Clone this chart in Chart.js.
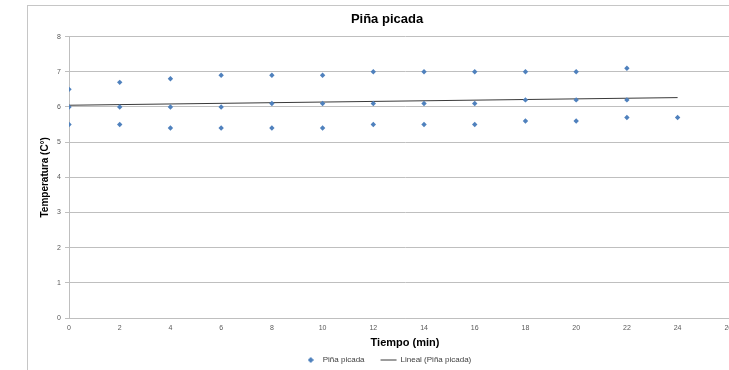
<!DOCTYPE html>
<html>
<head>
<meta charset="utf-8">
<script src="https://cdn.jsdelivr.net/npm/chart.js@4/dist/chart.umd.min.js"></script>
<style>
    html, body { margin: 0; padding: 0; background: #fff; overflow: hidden; }
    #wrap { position: relative; width: 729px; height: 370px; overflow: hidden; }
    #frame { position: absolute; left: 27px; top: 5px; width: 800px; height: 400px; border: 1px solid #c6c6c6; }
    #piña { position: absolute; left: 0; top: 0; }
</style>
</head>
<body>
<div id="wrap">
    <div id="frame"></div>
    <canvas id="piña" width="775" height="370"></canvas>
</div>
<script>
// Piña picada - temperatura vs tiempo

const tiempo = [0, 2, 4, 6, 8, 10, 12, 14, 16, 18, 20, 22, 24];
const tempAlta = [6.5, 6.7, 6.8, 6.9, 6.9, 6.9, 7.0, 7.0, 7.0, 7.0, 7.0, 7.1];
const tempMedia = [6.0, 6.0, 6.0, 6.0, 6.1, 6.1, 6.1, 6.1, 6.1, 6.2, 6.2, 6.2];
const tempBaja = [5.5, 5.5, 5.4, 5.4, 5.4, 5.4, 5.5, 5.5, 5.5, 5.6, 5.6, 5.7, 5.7];
const yTicks = [0, 1, 2, 3, 4, 5, 6, 7, 8];
const xTicks = [0, 2, 4, 6, 8, 10, 12, 14, 16, 18, 20, 22, 24, 26];

const FONT = "'Liberation Sans', Arial, sans-serif";
const AZUL = '#4F81BD';

// all measured points
const puntos = [];
[tempAlta, tempMedia, tempBaja].forEach(serie => {
    serie.forEach((v, i) => puntos.push({ x: tiempo[i], y: v }));
});

// linear trendline (least squares), like Excel's "Lineal"
function lineaTendencia(pts) {
    const n = pts.length;
    const mx = pts.reduce((a, p) => a + p.x, 0) / n;
    const my = pts.reduce((a, p) => a + p.y, 0) / n;
    let sxy = 0, sxx = 0;
    pts.forEach(p => {
        sxy += (p.x - mx) * (p.y - my);
        sxx += (p.x - mx) * (p.x - mx);
    });
    const m = sxy / sxx;
    const b = my - m * mx;
    const x0 = Math.min(...pts.map(p => p.x));
    const x1 = Math.max(...pts.map(p => p.x));
    return [{ x: x0, y: m * x0 + b }, { x: x1, y: m * x1 + b }];
}

// small diamond for the legend (rectRot gets stretched by pointStyleWidth)
function rombo(size) {
    const c = document.createElement('canvas');
    c.width = size;
    c.height = size;
    const g = c.getContext('2d');
    const h = size / 2;
    g.fillStyle = AZUL;
    g.beginPath();
    g.moveTo(h, 0);
    g.lineTo(size, h);
    g.lineTo(h, size);
    g.lineTo(0, h);
    g.closePath();
    g.fill();
    return c;
}
const romboLeyenda = rombo(6);

const PAD_LEFT = 33;

new Chart(document.getElementById('piña'), {
    type: 'scatter',
    data: {
        datasets: [
            {
                label: 'Piña picada',
                data: puntos,
                pointStyle: 'rectRot',
                pointRadius: 2.7,
                pointBackgroundColor: AZUL,
                pointBorderColor: AZUL,
                pointBorderWidth: 0,
                backgroundColor: AZUL,
                borderColor: AZUL
            },
            {
                label: 'Lineal (Piña picada)',
                type: 'line',
                data: lineaTendencia(puntos),
                borderColor: '#3a3a3a',
                backgroundColor: '#3a3a3a',
                borderWidth: 1,
                pointRadius: 0,
                pointStyle: 'line',
                fill: false
            }
        ]
    },
    options: {
        responsive: false,
        animation: false,
        layout: {
            padding: { left: PAD_LEFT, top: 5, right: 34, bottom: 0 }
        },
        plugins: {
            title: {
                display: true,
                text: 'Piña picada',
                color: '#000',
                font: { family: FONT, size: 13, weight: 'bold' },
                padding: { top: 7, bottom: 9 }
            },
            legend: {
                position: 'bottom',
                maxHeight: 30,
                labels: {
                    usePointStyle: true,
                    pointStyleWidth: 16,
                    boxHeight: 5,
                    color: '#404040',
                    font: { family: FONT, size: 8 },
                    padding: 16,
                    generateLabels: function(chart) {
                        const items = Chart.defaults.plugins.legend.labels.generateLabels(chart);
                        items[0].pointStyle = romboLeyenda;
                        return items;
                    }
                }
            },
            tooltip: { enabled: false }
        },
        scales: {
            x: {
                type: 'linear',
                min: 0,
                max: 26.5,
                afterBuildTicks: function(scale) {
                    scale.ticks = xTicks.map(v => ({ value: v }));
                },
                afterFit: function(scale) {
                    scale.height = 22;
                },
                ticks: {
                    color: '#595959',
                    font: { family: FONT, size: 7 },
                    padding: 6,
                    maxRotation: 0,
                    autoSkip: false
                },
                grid: { display: false, drawTicks: false, tickLength: 0 },
                border: { display: true, color: '#bfbfbf' },
                title: {
                    display: true,
                    text: 'Tiempo (min)',
                    color: '#000',
                    font: { family: FONT, size: 11, weight: 'bold' },
                    padding: { top: 0, bottom: -9.6 }
                }
            },
            y: {
                min: 0,
                max: 8,
                afterBuildTicks: function(scale) {
                    scale.ticks = yTicks.map(v => ({ value: v }));
                },
                afterFit: function(scale) {
                    scale.width = 69 - PAD_LEFT;
                },
                ticks: {
                    color: '#595959',
                    font: { family: FONT, size: 7 },
                    padding: 4
                },
                grid: {
                    color: '#bfbfbf',
                    lineWidth: 1,
                    tickLength: 4
                },
                border: { display: true, color: '#bfbfbf' },
                title: {
                    display: true,
                    text: 'Temperatura (C°)',
                    color: '#000',
                    font: { family: FONT, size: 10, weight: 'bold' },
                    padding: { top: 6, bottom: 0 }
                }
            }
        }
    }
});
</script>
</body>
</html>
